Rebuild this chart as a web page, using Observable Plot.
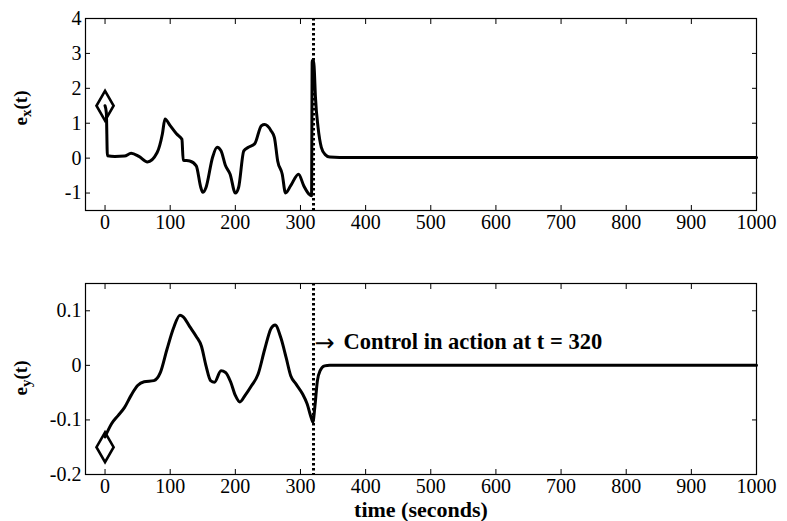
<!DOCTYPE html>
<html>
<head>
<meta charset="utf-8">
<script src="https://cdn.jsdelivr.net/npm/d3@7"></script>
<script src="https://cdn.jsdelivr.net/npm/@observablehq/plot@0.6"></script>
<style>
  html, body { margin: 0; padding: 0; background: #fff; }
  #chart { width: 787px; position: relative; }
  #chart svg { display: block; font-family: "Liberation Serif", "Times New Roman", serif !important; }
</style>
</head>
<body>
<div id="chart"></div>
<script>
// ---- data ----
const exTime = [0, 2, 3.6, 15, 30, 40, 52, 65, 80, 88, 92, 100, 110, 118, 120, 130, 140, 147, 150, 155, 165, 172, 178, 185, 192, 200, 205, 213, 220, 230, 240, 245, 255, 260, 265, 272, 277, 285, 297, 305, 313, 317, 318, 320, 321, 323, 327, 332, 338, 345, 360, 400, 500, 600, 700, 800, 900, 1000];
const exValue = [1.5, 1.3, 0.07, 0.05, 0.06, 0.14, 0.05, -0.11, 0.16, 0.69, 1.12, 0.93, 0.69, 0.54, -0.06, -0.08, -0.22, -0.84, -0.98, -0.84, 0.02, 0.31, 0.21, -0.22, -0.46, -1.0, -0.84, 0.21, 0.31, 0.42, 0.93, 0.96, 0.78, 0.59, -0.08, -0.46, -1.0, -0.79, -0.46, -0.79, -1.03, -1.08, 2.8, 2.8, 2.6, 1.74, 0.88, 0.31, 0.1, 0.03, 0.02, 0.02, 0.02, 0.02, 0.02, 0.02, 0.02, 0.02];

const eyTime = [0, 10, 20, 30, 40, 50, 60, 75, 85, 95, 105, 115, 120, 130, 140, 148, 155, 162, 168, 178, 185, 193, 200, 207, 215, 225, 235, 245, 255, 261, 270, 278, 285, 293, 303, 310, 317, 319, 322, 326, 330, 337, 345, 400, 500, 600, 700, 800, 900, 1000];
const eyValue = [-0.131, -0.107, -0.092, -0.077, -0.055, -0.037, -0.030, -0.028, -0.013, 0.029, 0.068, 0.092, 0.089, 0.071, 0.053, 0.035, -0.001, -0.028, -0.031, -0.010, -0.013, -0.031, -0.055, -0.067, -0.055, -0.037, -0.016, 0.029, 0.068, 0.074, 0.050, 0.014, -0.019, -0.034, -0.052, -0.070, -0.098, -0.104, -0.077, -0.028, -0.010, -0.001, 0.0, 0.0, 0.0, 0.0, 0.0, 0.0, 0.0, 0.0];

const xTicks = [0, 100, 200, 300, 400, 500, 600, 700, 800, 900, 1000];
const exTicks = [-1, 0, 1, 2, 3, 4];
const eyTicks = [-0.2, -0.1, 0, 0.1];
const controlTime = 320;
const exStart = 1.5;
const eyStart = -0.15;
const arrowGlyph = "\u2192";
const annotation = "Control in action at t = 320";
const xLabel = "time (seconds)";

const exData = exTime.map((t, i) => ({t, v: exValue[i]}));
const eyData = eyTime.map((t, i) => ({t, v: eyValue[i]}));

const FONT = "Liberation Serif";
const W = 787;

function panel({data, yDomain, yTicks, start, height, marginTop, marginBottom, extra = []}) {
  return Plot.plot({
    width: W,
    height,
    marginLeft: 85,
    marginRight: 31,
    marginTop,
    marginBottom,
    style: {"font-family": FONT, "font-size": "20px", "color": "black", "background": "white", "overflow": "visible"},
    x: {domain: [-30, 1000]},
    y: {domain: yDomain},
    marks: [
      Plot.ruleX([controlTime], {stroke: "black", strokeWidth: 3, strokeDasharray: "2.5,2.5"}),
      Plot.line(data, {x: "t", y: "v", stroke: "black", strokeWidth: 3, strokeLinejoin: "round", curve: "monotone-x"}),
      Plot.dot([{t: 0, v: start}], {x: "t", y: "v", symbol: "diamond", r: 9, stroke: "black", strokeWidth: 2.6, fill: "none"}),
      ...extra,
      Plot.frame({stroke: "black", strokeWidth: 1.2}),
      Plot.axisX(xTicks, {anchor: "bottom", tickSize: -5, tickPadding: 9, tickFormat: d => String(d), label: null, fontSize: 20, fontFamily: FONT}),
      Plot.axisX(xTicks, {anchor: "top", tickSize: -5, tickFormat: () => "", label: null}),
      Plot.axisY(yTicks, {anchor: "left", tickSize: -5, tickPadding: 9, tickFormat: d => String(d), label: null, fontSize: 20, fontFamily: FONT}),
      Plot.axisY(yTicks, {anchor: "right", tickSize: -5, tickFormat: () => "", label: null})
    ]
  });
}

const topPanel = panel({data: exData, yDomain: [-1.5, 4], yTicks: exTicks, start: exStart, height: 255, marginTop: 18, marginBottom: 45});
const bottomPanel = panel({
  data: eyData, yDomain: [-0.2, 0.15], yTicks: eyTicks, start: eyStart, height: 266, marginTop: 28, marginBottom: 47,
  extra: [
    Plot.text([{t: controlTime, v: 0.043}], {x: "t", y: "v", text: () => arrowGlyph, textAnchor: "start", dx: 1, dy: 1, fontSize: 24, fontFamily: "DejaVu Sans"}),
    Plot.text([{t: controlTime, v: 0.043}], {x: "t", y: "v", text: () => annotation, textAnchor: "start", dx: 30, fontSize: 22.5, fontWeight: "bold", fontFamily: FONT})
  ]
});

const chart = document.getElementById("chart");
chart.appendChild(topPanel);
chart.appendChild(bottomPanel);

// y-axis labels with subscripts, and x-axis label
function yLabel(svg, sub, cy) {
  const t = d3.select(svg).append("text")
    .attr("transform", `translate(27,${cy}) rotate(-90)`)
    .attr("text-anchor", "middle")
    .attr("font-family", FONT)
    .attr("font-weight", "bold")
    .attr("font-size", 19)
    .attr("fill", "black");
  t.append("tspan").text("e");
  t.append("tspan").attr("dy", 4).attr("font-size", 15).text(sub);
  t.append("tspan").attr("dy", -4).text("(t)");
}
yLabel(topPanel, "x", 108);
yLabel(bottomPanel, "y", 123);

d3.select(bottomPanel).append("text")
  .attr("x", 421).attr("y", 262)
  .attr("text-anchor", "middle")
  .attr("font-family", FONT)
  .attr("font-weight", "bold")
  .attr("font-size", 22)
  .attr("fill", "black")
  .text(xLabel);
</script>
</body>
</html>
